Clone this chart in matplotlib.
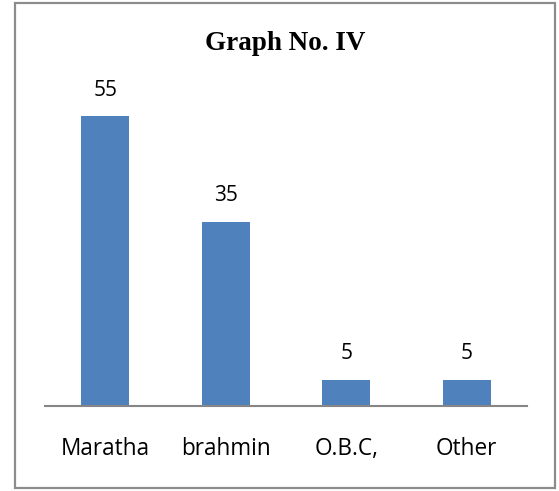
import matplotlib.pyplot as plt
from matplotlib.patches import Rectangle

# data
categories = ['Maratha', 'brahmin', 'O.B.C,', 'Other']
values = [55, 35, 5, 5]

W, H = 559, 491
fig = plt.figure(figsize=(W / 100, H / 100), dpi=100)

# outer border box
fig.patches.append(Rectangle((15 / W, 3 / H), 540 / W, 485 / H, transform=fig.transFigure,
                             fill=False, edgecolor='#8c8c8c', linewidth=1.6))

ax = fig.add_axes([45 / W, (H - 406) / H, 482 / W, 316 / H])
x = range(len(categories))
bars = ax.bar(x, values, width=0.4, color='#4F81BD')
ax.set_xlim(-0.5, len(categories) - 0.5)
ax.set_ylim(0, 60)

for b, v in zip(bars, values):
    ax.annotate(str(v), (b.get_x() + b.get_width() / 2, v), xytext=(0, 11),
                textcoords='offset points', ha='center', va='bottom',
                fontsize=15, family='Open Sans', color='black')

for s in ['top', 'right', 'left']:
    ax.spines[s].set_visible(False)
ax.spines['bottom'].set_color('#868686')
ax.spines['bottom'].set_linewidth(1.5)
ax.set_yticks([])
ax.set_xticks(list(x))
ax.set_xticklabels(categories, fontsize=16.3, family='Open Sans')
ax.tick_params(axis='x', length=0, pad=22)

fig.text(285 / W, (H - 43) / H, 'Graph No. IV', ha='center', va='center',
         fontsize=19.5, fontweight='bold', family='Liberation Serif')

fig.savefig('out.png', dpi=100)
